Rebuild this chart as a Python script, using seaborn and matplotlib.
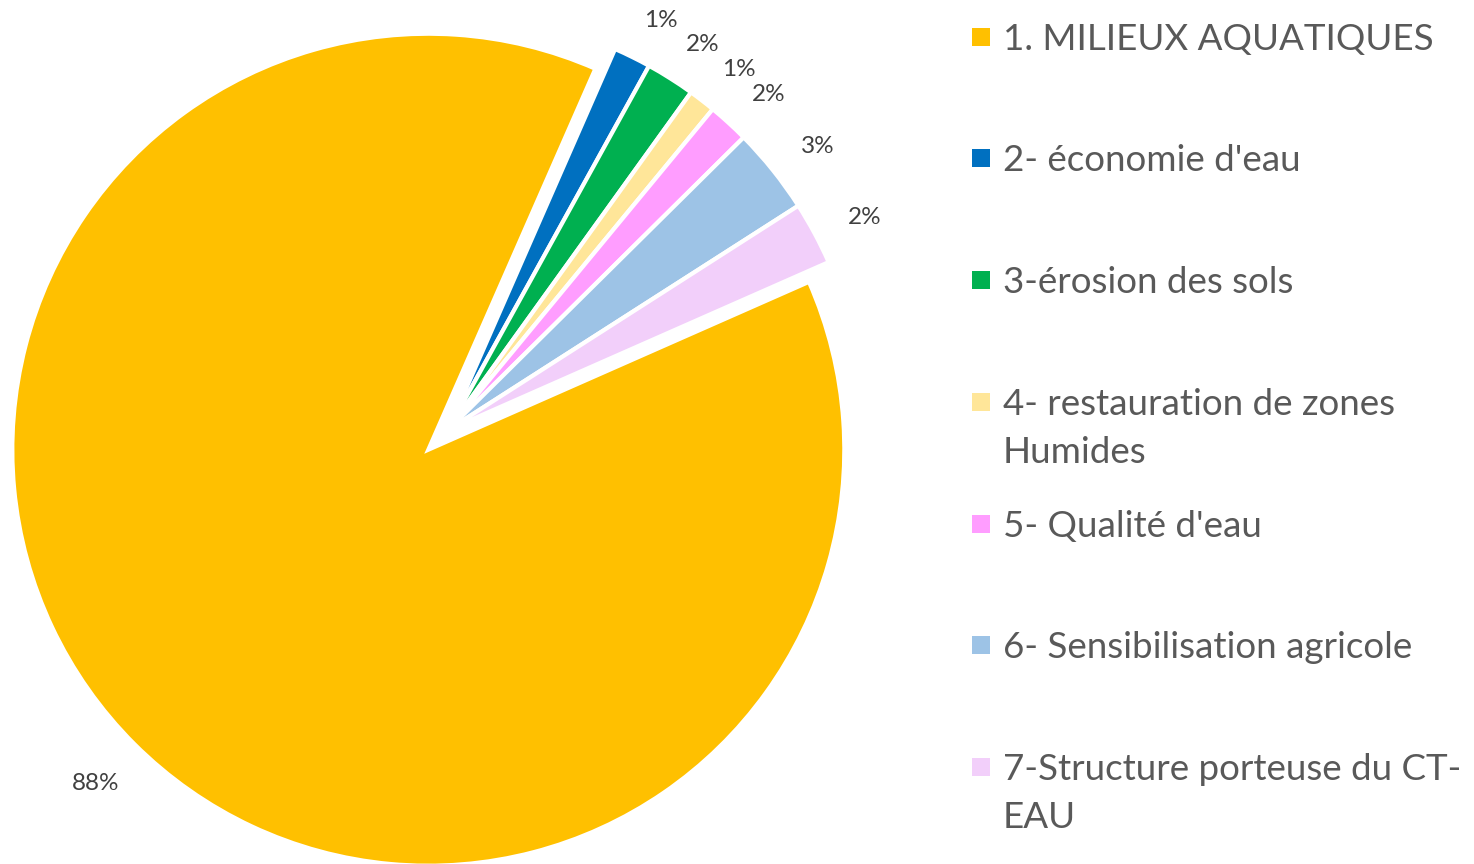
import matplotlib
matplotlib.use('Agg')
import matplotlib.pyplot as plt
import seaborn as sns
from matplotlib.patches import Rectangle

# ---- data ----
categories = ["1. MILIEUX AQUATIQUES", "2- économie d'eau", "3-érosion des sols",
              "4- restauration de zones\nHumides", "5- Qualité d'eau",
              "6- Sensibilisation agricole", "7-Structure porteuse du CT-\nEAU"]
values = [88.1, 1.45, 1.9, 1.05, 1.6, 3.35, 2.45]
colors = ["#FFC000", "#0070C0", "#00B050", "#FFE699", "#FF9DFF", "#9DC3E6", "#F2CFFA"]
explode = [0.067, 0, 0, 0, 0, 0, 0]

sns.set_theme(style="white")
plt.rcParams['font.family'] = ['Lato', 'DejaVu Sans']

W, H = 1474, 864
fig = plt.figure(figsize=(W / 100, H / 100), dpi=100)
ax_w = 900
ax = fig.add_axes([0, 0, ax_w / W, 1])
cx, cy, R = 448, 430, 416

wedges, texts, autotexts = ax.pie(
    values, colors=sns.color_palette(colors), explode=explode,
    startangle=23.8, counterclock=False, autopct='%.0f%%', pctdistance=1.12,
    wedgeprops=dict(edgecolor='white', linewidth=3),
    textprops=dict(color='#404040', fontsize=17.5))
# fine placement of the percentage labels
for k, t in enumerate(autotexts):
    px, py = t.get_position()
    if k == 0:
        t.set_position((px * 1.01, py * 1.01))
    else:
        t.set_position((px + 6 / R, py - 8 / R))
ax.set_aspect('auto')
ax.set_xlim(-cx / R, (ax_w - cx) / R)
ax.set_ylim(-(H - cy) / R, cy / R)
ax.axis('off')

# ---- legend (drawn manually, marker aligned to first line) ----
x_mark, msize, x_text = 972, 18, 1003
y0, dy, line_gap = 36.7, 121.7, 48
for i, (lab, col) in enumerate(zip(categories, colors)):
    yc = y0 + i * dy
    fig.patches.append(Rectangle((x_mark / W, 1 - (yc + msize / 2) / H), msize / W, msize / H,
                                 transform=fig.transFigure, facecolor=col, edgecolor='none'))
    for j, line in enumerate(lab.split('\n')):
        fig.text(x_text / W, 1 - (yc + 13 + j * line_gap) / H, line, color='#595959',
                 fontsize=26.5, va='baseline', ha='left')

fig.savefig('out.png', dpi=100, facecolor='white')
